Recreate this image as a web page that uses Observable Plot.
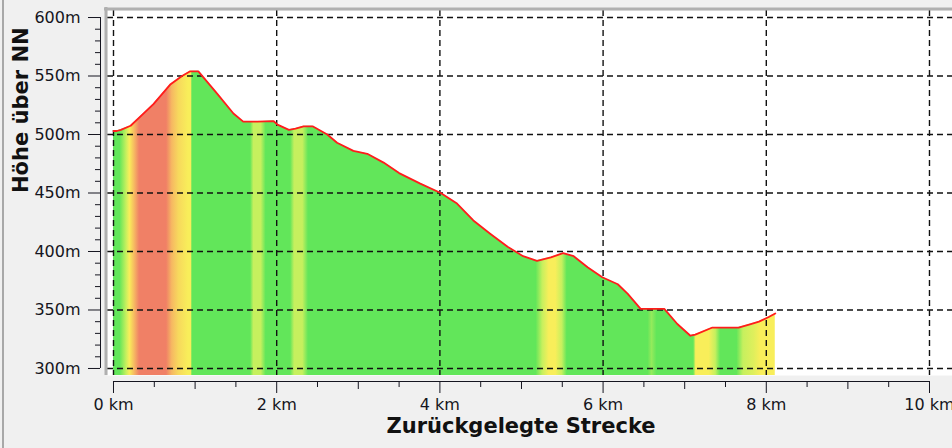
<!DOCTYPE html>
<html><head><meta charset="utf-8">
<script src="https://cdn.jsdelivr.net/npm/d3@7"></script>
<script src="https://cdn.jsdelivr.net/npm/@observablehq/plot@0.6"></script>
<style>
html,body{margin:0;padding:0;background:#f0f0f0;}
#wrap{position:relative;width:952px;height:448px;overflow:hidden;background:#f0f0f0;}
#wrap svg{display:block;}
#edge{position:absolute;left:2px;top:0;width:2px;height:448px;background:#a8a8a8;}
</style></head>
<body><div id="wrap"><div id="edge"></div></div>
<script>
// Elevation profile (distance in km, elevation in m)
const distanceKm = [0.00, 0.04, 0.09, 0.21, 0.37, 0.49, 0.70, 0.84, 0.94, 1.04, 1.27, 1.47, 1.59, 1.76, 1.96, 2.01, 2.15, 2.23, 2.33, 2.44, 2.62, 2.74, 2.94, 3.11, 3.31, 3.50, 3.76, 4.01, 4.21, 4.41, 4.62, 4.83, 5.02, 5.19, 5.36, 5.51, 5.64, 5.81, 5.99, 6.18, 6.30, 6.46, 6.75, 6.91, 7.07, 7.13, 7.34, 7.66, 7.81, 7.91, 8.03, 8.11];
const elevationM = [503, 503, 504, 507.5, 518, 526, 543, 550, 554, 554, 535, 518, 511, 511, 511.5, 508.5, 504, 505, 507, 507, 500, 493, 486, 483.5, 476, 467, 458, 450, 441, 426.5, 415, 404, 396, 392, 395, 398.6, 396, 386.6, 378, 372, 364, 351, 351, 338, 328, 329, 335, 335, 338, 340, 344, 347];

// Gradient (slope %) along the route, used for the fill colouring
const gradeKm  = [0, 0.08, 0.16, 0.20, 0.26, 0.32, 0.65, 0.72, 0.80, 0.92, 0.955, 0.965, 1.68, 1.72, 1.81, 1.87, 2.17, 2.22, 2.32, 2.39, 5.18, 5.26, 5.34, 5.42, 5.50, 5.56, 6.55, 6.60, 6.66, 7.11, 7.14, 7.30, 7.38, 7.44, 7.64, 7.72, 7.85, 7.93, 8.11];
const gradePct = [0, 0, 3, 5, 7.5, 10, 10, 7.5, 6, 5, 5, 0, 0, 3, 3, 0, 0, 3, 3, 0, 0, 3, 5, 5, 3, 0, 0, 2, 0, 0, 5, 5, 3, 0, 0, 3, 4, 5, 5];

const xTickKm = [0, 2, 4, 6, 8, 10];
const yTickM = [300, 350, 400, 450, 500, 550, 600];
const xTitle = "Zurückgelegte Strecke";
const yTitle = "Höhe über NN";

const profile = distanceKm.map((km, i) => ({km, elev: elevationM[i]}));
const xDomain = [-0.0735, 10.282];
const yDomain = [294, 606];
const xMid = [1, 3, 5, 7, 9];
const xSmall = d3.range(0.5, 10, 1);
const yMinor = d3.range(300, 601, 10).filter(v => v % 50 !== 0);

const gradeColor = d3.scaleLinear()
  .domain([0, 1, 3, 5, 7.5, 10])
  .range(["#62e65a", "#62e65a", "#c6f05e", "#f8ee5a", "#f6b862", "#f08066"])
  .clamp(true);

const grid = {stroke: "#111", strokeWidth: 1.4, strokeDasharray: "6,4"};
const noText = () => "";

const plot = Plot.plot({
  width: 952, height: 448,
  marginLeft: 107, marginRight: 0, marginTop: 10, marginBottom: 73,
  style: {background: "transparent", fontFamily: "DejaVu Sans, sans-serif", fontSize: "16px", color: "#151520"},
  x: {domain: xDomain},
  y: {domain: yDomain},
  marks: [
    Plot.frame({fill: "white", stroke: null}),
    Plot.areaY(profile, {x: "km", y1: yDomain[0], y2: "elev", fill: "url(#gradeFill)"}),
    Plot.ruleY(yTickM, grid),
    Plot.ruleX(xTickKm, grid),
    Plot.lineY(profile, {x: "km", y: "elev", stroke: "#ff1c1c", strokeWidth: 1.8}),
    // plot border (left / top)
    Plot.ruleX([xDomain[0]], {stroke: "#b0b0b0", strokeWidth: 3, dx: -1.5, insetTop: -3}),
    Plot.ruleY([yDomain[1]], {stroke: "#b0b0b0", strokeWidth: 3, dy: -1.5, insetLeft: -3}),
    // y axis
    Plot.ruleX([xDomain[0]], {y1: yTickM[0], y2: yTickM[yTickM.length - 1], dx: -7, stroke: "#151520"}),
    Plot.axisY(yTickM, {tickSize: 12, dx: -7, tickPadding: 8, tickFormat: d => `${d}m`, label: null, fontSize: 16}),
    Plot.axisY(yMinor, {tickSize: 5, dx: -7, tickFormat: noText, label: null}),
    // x axis
    Plot.ruleY([yDomain[0]], {x1: xTickKm[0], x2: xTickKm[xTickKm.length - 1], dy: 6, stroke: "#151520"}),
    Plot.axisX(xTickKm, {tickSize: 12, dy: 6, tickPadding: 5, tickFormat: d => `${d} km`, label: null, fontSize: 16}),
    Plot.axisX(xMid, {tickSize: 8, dy: 6, tickFormat: noText, label: null}),
    Plot.axisX(xSmall, {tickSize: 6, dy: 6, tickFormat: noText, label: null}),
    // titles
    Plot.text([yTitle], {text: d => d, frameAnchor: "left", dx: -86, rotate: -90, fontSize: 21, fontWeight: "bold", fill: "#111"}),
    Plot.text([xTitle], {text: d => d, frameAnchor: "bottom", dx: -9, dy: 57, fontSize: 21, fontWeight: "bold", fill: "#111"})
  ]
});

// gradient definition built from the x scale
const xs = plot.scale("x");
const svg = d3.select(plot);
const defs = svg.insert("defs", ":first-child");
const gx0 = xs.apply(gradeKm[0]);
const gx1 = xs.apply(gradeKm[gradeKm.length - 1]);
const grad = defs.append("linearGradient").attr("id", "gradeFill")
  .attr("gradientUnits", "userSpaceOnUse")
  .attr("x1", gx0).attr("x2", gx1).attr("y1", 0).attr("y2", 0);
gradeKm.forEach((k, i) => {
  grad.append("stop")
    .attr("offset", (xs.apply(k) - gx0) / (gx1 - gx0))
    .attr("stop-color", gradeColor(gradePct[i]));
});

const areaNodes = svg.selectAll('g[aria-label="area"]').nodes();
if (areaNodes[0]) { d3.select(areaNodes[0]).attr("fill", "url(#gradeFill)").selectAll("path").attr("fill", "url(#gradeFill)"); }

document.getElementById("wrap").insertBefore(plot, document.getElementById("edge"));
</script>
</body></html>
